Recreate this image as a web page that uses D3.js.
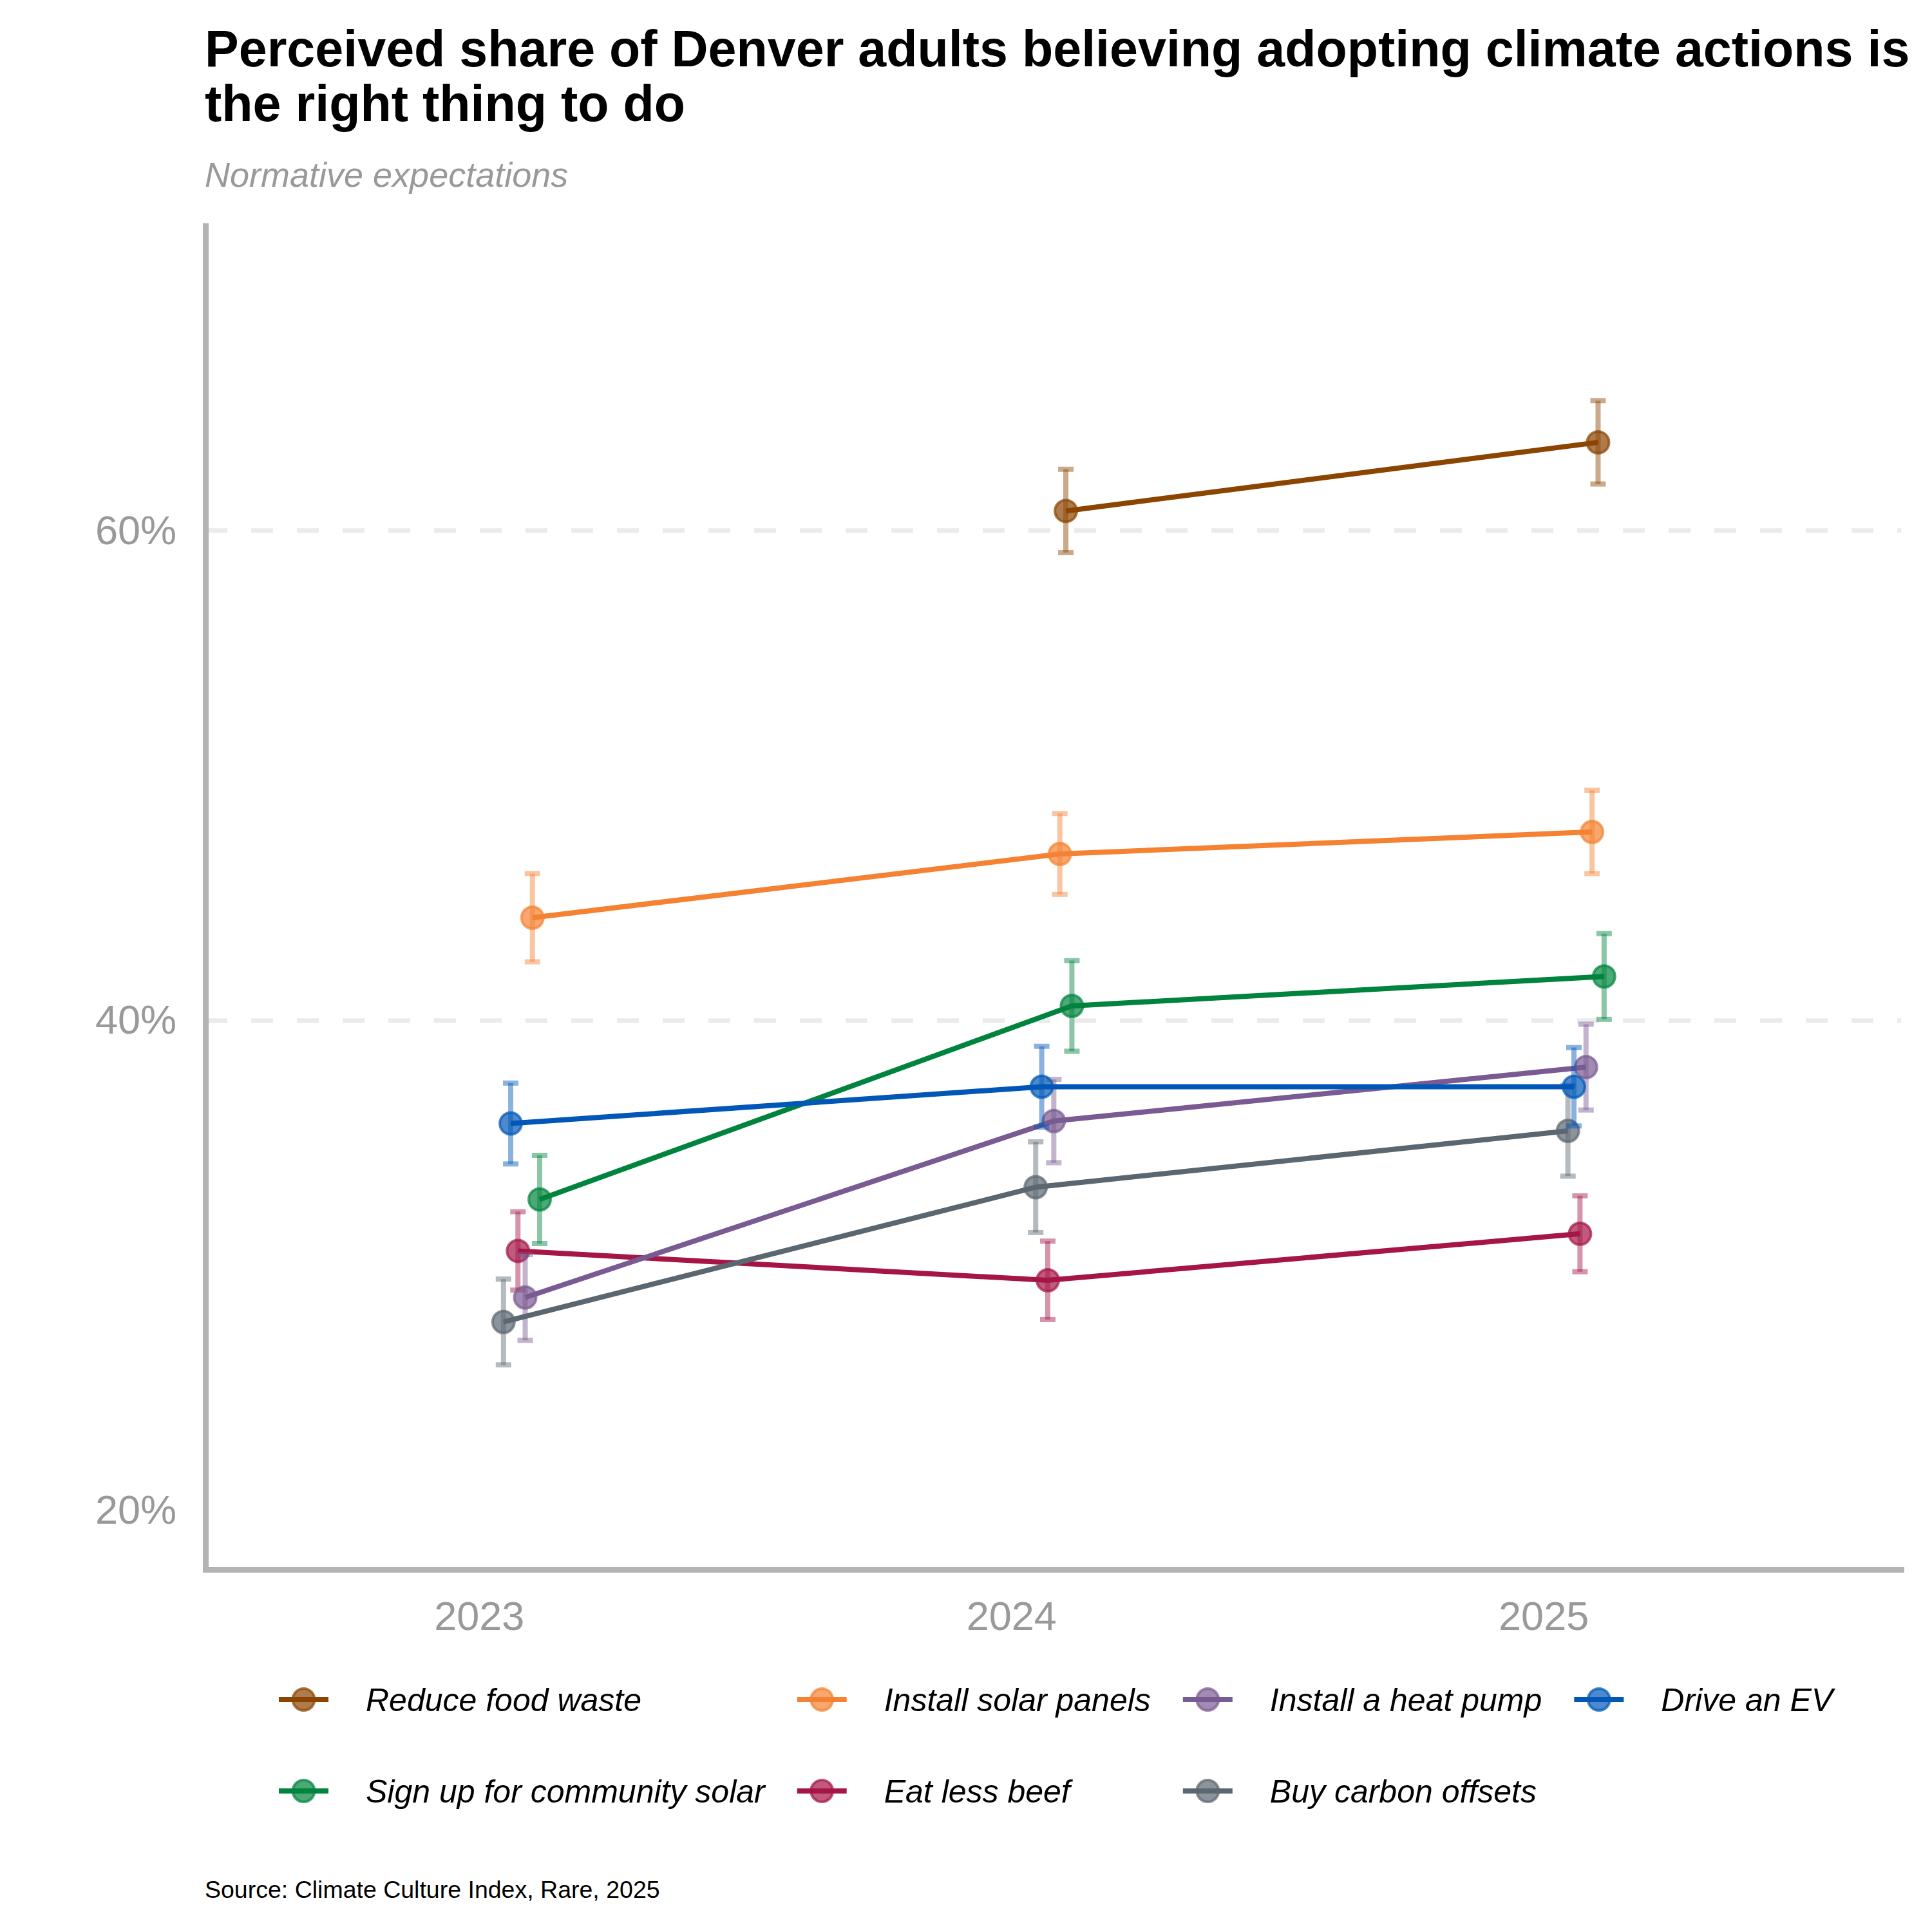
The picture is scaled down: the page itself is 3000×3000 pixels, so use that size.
<!DOCTYPE html>
<html>
<head>
<meta charset="utf-8">
<script src="https://cdn.jsdelivr.net/npm/d3@7"></script>
<style>
  body { margin: 0; background: #fff; }
  text { font-family: "Liberation Sans", Arial, sans-serif; }
</style>
</head>
<body>
<div id="viz"></div>
<script>
var years = [2023, 2024, 2025];

// legend order (column-major, 2 rows)
var actions = ["Reduce food waste", "Sign up for community solar", "Install solar panels",
  "Eat less beef", "Install a heat pump", "Buy carbon offsets", "Drive an EV"];
var colors = ["#8B4500", "#00843D", "#F58232", "#A51546", "#7A5A92", "#5B6770", "#0057B8"];

// share (%) per year, null = not asked
var foodWaste = [null, 60.8, 63.6];
var communitySolar = [32.7, 40.6, 41.8];
var solarPanels = [44.2, 46.8, 47.7];
var lessBeef = [30.6, 29.4, 31.3];
var heatPump = [28.7, 35.9, 38.1];
var carbonOffsets = [27.7, 33.2, 35.5];
var driveEV = [35.8, 37.3, 37.3];

// error bar half-widths (percentage points)
var foodWasteErr = [null, 1.7, 1.7];
var communitySolarErr = [1.8, 1.85, 1.75];
var solarPanelsErr = [1.8, 1.65, 1.7];
var lessBeefErr = [1.6, 1.6, 1.55];
var heatPumpErr = [1.75, 1.7, 1.75];
var carbonOffsetsErr = [1.75, 1.85, 1.85];
var driveEVErr = [1.65, 1.65, 1.6];

// left-to-right order of the dodged points within each year
var dodgeOrder = ["Buy carbon offsets", "Drive an EV", "Eat less beef", "Install a heat pump",
  "Install solar panels", "Reduce food waste", "Sign up for community solar"];

var yTicks = [20, 40, 60];
var gridTicks = [40, 60];

var title1 = "Perceived share of Denver adults believing adopting climate actions is";
var title2 = "the right thing to do";
var subtitle = "Normative expectations";
var source = "Source: Climate Culture Index, Rare, 2025";

var values = [foodWaste, communitySolar, solarPanels, lessBeef, heatPump, carbonOffsets, driveEV];
var errs = [foodWasteErr, communitySolarErr, solarPanelsErr, lessBeefErr, heatPumpErr, carbonOffsetsErr, driveEVErr];

var W = 3000, H = 3000;
var svg = d3.select('#viz').append('svg').attr('width', W).attr('height', H);

var x = d3.scaleLinear().domain([2022.486, 2025.672]).range([319, 2952]);
var y = d3.scaleLinear().domain([17.6, 72.56]).range([2437, 346]);

var dodgeShift = 0.08, dodgeSpan = 0.068;

// build point table
var series = actions.map(function (name, i) {
  return { name: name, color: colors[i], points: [] };
});
years.forEach(function (yr, j) {
  var present = dodgeOrder.filter(function (n) {
    return values[actions.indexOf(n)][j] != null;
  });
  present.forEach(function (n, k) {
    var si = actions.indexOf(n);
    var off = dodgeShift + (k / (present.length - 1) - 0.5) * dodgeSpan;
    series[si].points.push({ x: yr + off, v: values[si][j], e: errs[si][j] });
  });
});

// grid
svg.append('g').selectAll('line').data(gridTicks).enter().append('line')
  .attr('x1', x.range()[0]).attr('x2', x.range()[1])
  .attr('y1', function (d) { return y(d); }).attr('y2', function (d) { return y(d); })
  .attr('stroke', '#ebebeb').attr('stroke-width', 7).attr('stroke-dasharray', '34,37');

// axes
var yAxis = svg.append('g').attr('transform', 'translate(' + x.range()[0] + ',0)')
  .call(d3.axisLeft(y).tickValues(yTicks).tickFormat(function (d) { return d + '%'; })
    .tickSize(0).tickSizeOuter(0).tickPadding(45));
var xAxis = svg.append('g').attr('transform', 'translate(0,' + y.range()[0] + ')')
  .call(d3.axisBottom(x).tickValues(years).tickFormat(d3.format('d'))
    .tickSize(0).tickSizeOuter(0).tickPadding(49));
[yAxis, xAxis].forEach(function (a) {
  a.select('.domain').attr('stroke', '#b3b3b3').attr('stroke-width', 9);
  a.selectAll('text').attr('fill', '#999999').style('font-size', '63px');
});
xAxis.select('.domain').attr('stroke-linecap', 'square');

var line = d3.line()
  .x(function (d) { return x(d.x); })
  .y(function (d) { return y(d.v); });

var groups = svg.append('g').selectAll('g').data(series).enter().append('g');

// error bars
groups.each(function (s) {
  var g = d3.select(this);
  s.points.forEach(function (p) {
    var px = x(p.x);
    g.append('line').attr('x1', px).attr('x2', px)
      .attr('y1', y(p.v - p.e)).attr('y2', y(p.v + p.e))
      .attr('stroke', s.color).attr('stroke-width', 8).attr('opacity', 0.45);
    [p.v - p.e, p.v + p.e].forEach(function (c) {
      g.append('line').attr('x1', px - 12).attr('x2', px + 12)
        .attr('y1', y(c)).attr('y2', y(c))
        .attr('stroke', s.color).attr('stroke-width', 8).attr('opacity', 0.45);
    });
  });
});

// markers
groups.each(function (s) {
  d3.select(this).selectAll('circle').data(s.points).enter().append('circle')
    .attr('cx', function (d) { return x(d.x); })
    .attr('cy', function (d) { return y(d.v); })
    .attr('r', 17)
    .attr('fill', s.color).attr('fill-opacity', 0.7)
    .attr('stroke', s.color).attr('stroke-opacity', 0.7).attr('stroke-width', 4);
});

// lines
groups.append('path')
  .attr('d', function (s) { return line(s.points); })
  .attr('fill', 'none')
  .attr('stroke', function (s) { return s.color; })
  .attr('stroke-width', 8);

// titles
svg.append('text').attr('x', 318).attr('y', 103).text(title1)
  .style('font-size', '79px').style('font-weight', 'bold').attr('fill', '#000');
svg.append('text').attr('x', 318).attr('y', 188).text(title2)
  .style('font-size', '79px').style('font-weight', 'bold').attr('fill', '#000');
svg.append('text').attr('x', 318).attr('y', 290).text(subtitle)
  .style('font-size', '54px').style('font-style', 'italic').attr('fill', '#999999');

// legend: 4 columns x 2 rows, filled column-major
var legend = svg.append('g');
var rowY = [2639, 2781];
var colX = 433, keyLen = 77, textOff = 135, colGap = 50;
for (var c = 0; c * 2 < actions.length; c++) {
  var maxW = 0;
  for (var r = 0; r < 2; r++) {
    var i = c * 2 + r;
    if (i >= actions.length) break;
    var ly = rowY[r];
    legend.append('circle').attr('cx', colX + keyLen / 2).attr('cy', ly).attr('r', 17)
      .attr('fill', colors[i]).attr('fill-opacity', 0.7)
      .attr('stroke', colors[i]).attr('stroke-opacity', 0.7).attr('stroke-width', 4);
    legend.append('line').attr('x1', colX).attr('x2', colX + keyLen)
      .attr('y1', ly).attr('y2', ly)
      .attr('stroke', colors[i]).attr('stroke-width', 8);
    var t = legend.append('text').attr('x', colX + textOff).attr('y', ly + 18)
      .text(actions[i]).style('font-size', '50px').style('font-style', 'italic').attr('fill', '#000');
    maxW = Math.max(maxW, t.node().getComputedTextLength());
  }
  colX += textOff + maxW + colGap;
}

svg.append('text').attr('x', 318).attr('y', 2947).text(source)
  .style('font-size', '37.5px').attr('fill', '#000');
</script>
</body>
</html>
